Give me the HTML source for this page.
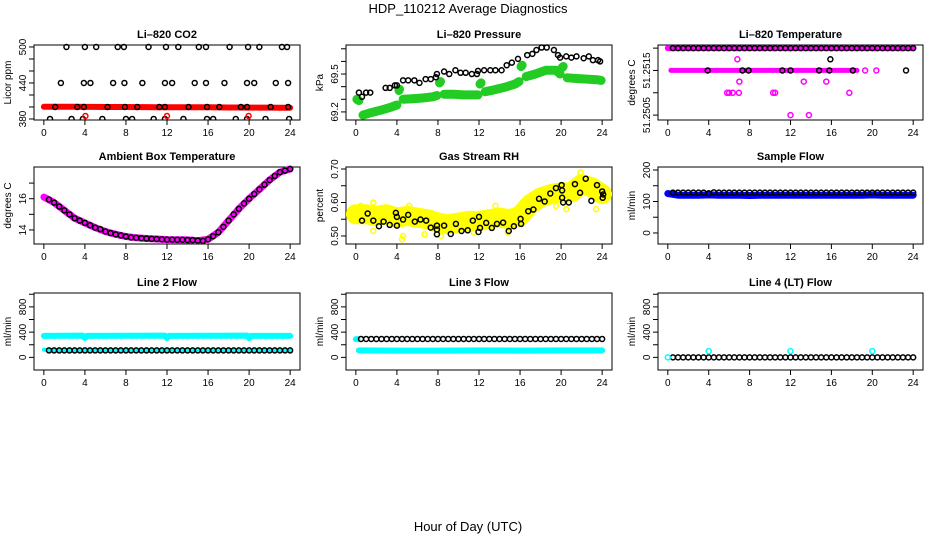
<!DOCTYPE html>
<html><head><meta charset="utf-8"><style>
html,body{margin:0;padding:0;background:#fff;}
svg{display:block;font-family:"Liberation Sans",sans-serif;}
</style></head><body>
<svg id="chart" width="936" height="540" viewBox="0 0 936 540" xmlns="http://www.w3.org/2000/svg">
<text x="468" y="13" font-size="13" text-anchor="middle">HDP_110212  Average Diagnostics</text>
<text x="468" y="531" font-size="13" text-anchor="middle">Hour of Day (UTC)</text>
</svg>
<script>
// ---- shared categories ----
const xTicks = [0,4,8,12,16,20,24];
const H48 = [0.5,1,1.5,2,2.5,3,3.5,4,4.5,5,5.5,6,6.5,7,7.5,8,8.5,9,9.5,10,10.5,11,11.5,12,12.5,13,13.5,14,14.5,15,15.5,16,16.5,17,17.5,18,18.5,19,19.5,20,20.5,21,21.5,22,22.5,23,23.5,24];
const H25 = [0,1,2,3,4,5,6,7,8,9,10,11,12,13,14,15,16,17,18,19,20,21,22,23,24];

// ---- CO2 ----
const co2RedVals = [400.5,400.5,400.4,400.3,400.2,400.1,400,400,399.9,399.8,399.8,399.7,399.6,399.6,399.5,399.4,399.4,399.3,399.2,399.1,399,399,398.9,398.8,398.8];
const co2H500 = [2.2,4.0,5.1,7.2,7.8,10.2,11.9,13.1,15.1,15.8,18.1,19.9,21.0,23.2,23.7];
const co2H440 = [1.66,3.9,4.54,6.75,7.85,9.6,11.8,12.5,14.7,15.8,17.6,19.8,20.5,22.6,23.8];
const co2H400 = [1.1,3.25,3.9,6.2,7.9,9.1,11.25,11.8,14.1,15.9,17.1,19.2,19.8,22.1,23.8];
const co2H380 = [0.6,2.7,3.8,5.7,8.0,8.6,10.7,11.8,13.6,15.9,16.5,18.7,19.8,21.6,23.9];
const co2RedOutH = [4.05,12,19.95];
const co2RedOutV = [385,385,385];

// ---- Pressure ----
const presBlackH = [0.3,0.6,1.0,1.4,2.9,3.3,3.8,4.0,4.6,5.1,5.7,6.2,6.8,7.3,7.8,7.9,8.6,9.1,9.7,10.2,10.7,11.3,11.8,11.9,12.5,13.1,13.6,14.2,14.7,15.2,15.8,16.7,17.2,17.6,18.1,18.6,19.3,19.7,19.9,20.5,21.0,21.5,22.2,22.7,23.1,23.6,23.8];
const presBlackV = [69.353,69.32,69.353,69.353,69.39,69.39,69.41,69.41,69.45,69.45,69.45,69.43,69.46,69.46,69.475,69.50,69.52,69.50,69.53,69.51,69.51,69.50,69.50,69.525,69.53,69.53,69.53,69.53,69.57,69.59,69.62,69.65,69.66,69.69,69.71,69.71,69.69,69.65,69.63,69.64,69.63,69.64,69.625,69.64,69.61,69.61,69.60];
const presGreenH = [0.1,0.3,null,0.7,1.5,2.5,3.5,4.0,null,4.2,4.25,null,4.6,5.5,6.5,7.5,7.9,null,8.15,8.25,null,8.6,9.5,10.5,11.5,11.9,null,12.1,12.2,null,12.6,13.5,14.5,15.5,15.9,null,16.1,16.2,null,16.6,17.5,18.5,19.5,19.9,null,20.1,20.2,null,20.6,21.5,22.5,23.5,23.9];
const presGreenV = [69.30,69.29,null,69.175,69.195,69.215,69.24,69.255,null,69.37,69.38,null,69.30,69.305,69.31,69.32,69.33,null,69.43,69.44,null,69.34,69.34,69.335,69.335,69.335,null,69.42,69.43,null,69.36,69.375,69.395,69.42,69.44,null,69.56,69.57,null,69.48,69.50,69.53,69.53,69.50,null,69.55,69.56,null,69.47,69.465,69.46,69.455,69.45];

// ---- Li-820 Temperature ----
const tMagTopH = [0,24];
const tMagTopV = [51.252,51.252];
const tMagMidH = [0.3,18.5];
const tMagMidV = [51.2515,51.2515];
const tMagPtsH = [19.3,20.4,6.8,7.0,13.3,15.5,5.8,6.0,6.35,6.95,10.3,10.5,17.75,12.0,13.8];
const tMagPtsV = [51.2515,51.2515,51.25175,51.25125,51.25125,51.25125,51.251,51.251,51.251,51.251,51.251,51.251,51.251,51.2505,51.2505];
const tBlackMidH = [3.9,7.3,7.9,11.2,12.0,14.8,15.8,18.1,23.3,15.9];
const tBlackMidV = [51.2515,51.2515,51.2515,51.2515,51.2515,51.2515,51.2515,51.2515,51.2515,51.25175];

// ---- Ambient ----
const ambLineV = [16.1,15.75,15.25,14.75,14.45,14.15,13.9,13.72,13.58,13.5,13.45,13.42,13.38,13.37,13.36,13.32,13.4,13.85,14.6,15.35,16.0,16.6,17.2,17.7,17.9];
const ambBlackV = [15.95,15.75,15.5,15.25,15.0,14.75,14.6,14.45,14.3,14.15,14.05,13.9,13.8,13.72,13.65,13.58,13.52,13.5,13.47,13.45,13.43,13.42,13.4,13.38,13.38,13.37,13.37,13.36,13.35,13.32,13.3,13.4,13.6,13.85,14.2,14.6,15.0,15.35,15.7,16.0,16.3,16.6,16.9,17.2,17.45,17.7,17.8,17.9];

// ---- Gas Stream RH ----
const rhBandV = [0.565,0.565,0.56,0.565,0.555,0.56,0.555,0.55,0.54,0.535,0.54,0.545,0.545,0.55,0.555,0.55,0.56,0.595,0.615,0.625,0.63,0.63,0.655,0.645,0.625];
const rhYelH = [0.2,0.5,1.7,1.7,4.5,4.6,5.2,6.7,8.3,13.6,14.8,21.9,23.4,20.5,19.5,9.5,3.0,11.5];
const rhYelV = [0.575,0.59,0.6,0.515,0.49,0.50,0.59,0.505,0.50,0.59,0.51,0.69,0.58,0.58,0.59,0.525,0.58,0.51];
const rhBlackH = [0.6,1.15,1.7,2.25,2.7,3.3,3.9,4.0,4.0,4.6,5.1,5.75,6.3,6.85,7.3,7.9,7.9,7.9,8.6,9.25,9.75,10.3,10.9,11.4,11.95,12.0,12.1,12.7,13.25,13.75,14.35,14.9,15.4,16.05,16.1,16.8,17.3,17.85,18.4,18.95,19.5,20.05,20.1,20.1,20.2,20.75,21.35,21.85,22.4,22.95,23.5,24.0,24.05,24.1];
const rhBlackV = [0.546,0.567,0.546,0.529,0.543,0.533,0.569,0.557,0.531,0.549,0.563,0.543,0.549,0.546,0.525,0.519,0.531,0.505,0.531,0.506,0.536,0.515,0.517,0.546,0.512,0.557,0.524,0.539,0.524,0.536,0.54,0.515,0.529,0.551,0.536,0.574,0.579,0.611,0.603,0.627,0.643,0.652,0.636,0.614,0.60,0.60,0.655,0.629,0.671,0.605,0.652,0.633,0.614,0.624];

// ---- Sample flow ----
const sampBlueV = [125,120,120,120,121,120,120,120,119,120,120,120,120,120,120,120,120,120,120,120,121,120,120,120,120];
const sampBlackV = [128,128,128,128,128,128,128,126,129,128,128,128,128,128,128,128,128,128,128,128,128,128,128,128,128,128,128,128,128,128,128,128,128,128,128,128,128,128,128,128,128,128,128,128,128,128,128,128];

// ---- Line flows ----
const l2CyanUpH = [0,3.8,4.0,4.2,11.8,12.0,12.2,19.8,20.0,20.2,24];
const l2CyanUpV = [340,345,305,340,345,305,340,345,305,340,340];
const l2CyanLowV = [120,110,110,110,110,110,110,110,110,110,110,110,110,110,110,110,110,110,110,110,110,110,110,110,110];
const l2BlackV = [110,110,110,110,110,110,110,110,110,110,110,110,110,110,110,110,110,110,110,110,110,110,110,110,110,110,110,110,110,110,110,110,110,110,110,110,110,110,110,110,110,110,110,110,110,110,110,110];
const l3CyanH = [0.3,4,8,12,16,20,24];
const l3CyanV = [110,108,108,110,108,110,110];
const l3CyanStartH = [0,0.15];
const l3CyanStartV = [290,290];
const l3BlackV = [292,292,292,292,292,292,292,292,292,292,292,292,292,292,292,292,292,292,292,292,292,292,292,292,292,292,292,292,292,292,292,292,292,292,292,292,292,292,292,292,292,292,292,292,292,292,292,292];
const l4BlackV = [0,0,0,0,0,0,0,0,0,0,0,0,0,0,0,0,0,0,0,0,0,0,0,0,0,0,0,0,0,0,0,0,0,0,0,0,0,0,0,0,0,0,0,0,0,0,0,0];
const l4CyanH = [0,4,12,20];
const l4CyanV = [0,100,100,100];

// ================= drawing =================
const NS = 'http://www.w3.org/2000/svg';
const svg = document.getElementById('chart');
function mk(tag, attrs, parent){
  const e = document.createElementNS(NS, tag);
  for (const k in attrs) e.setAttribute(k, attrs[k]);
  (parent||svg).appendChild(e);
  return e;
}
function panel(cfg){
  const g = mk('g', {});
  
  
  const xs = h => cfg.x0 + (cfg.x1-cfg.x0)*(h+0.96)/25.92;
  const ys = v => cfg.y1 - (cfg.y1-cfg.y0)*(v-cfg.ylim[0])/(cfg.ylim[1]-cfg.ylim[0]);
  const t = mk('text', {x:(cfg.x0+cfg.x1)/2, y:cfg.y0-7, 'font-size':11, 'font-weight':'bold', 'text-anchor':'middle'}, g);
  t.textContent = cfg.title;
  
  
  const box = mk('rect', {x:cfg.x0, y:cfg.y0, width:cfg.x1-cfg.x0, height:cfg.y1-cfg.y0, fill:'none', stroke:'#000', 'stroke-width':1}, g);
  
  
  const xa = mk('g', {}, g);
  
  
  xTicks.forEach(h => {
    mk('line', {x1:xs(h), x2:xs(h), y1:cfg.y1, y2:cfg.y1+5, stroke:'#000'}, xa);
    const l = mk('text', {x:xs(h), y:cfg.y1+16, 'font-size':10, 'text-anchor':'middle'}, xa);
    l.textContent = h;
  });
  const ya = mk('g', {}, g);
  
  
  cfg.yticks.forEach(v => mk('line', {x1:cfg.x0-5, x2:cfg.x0, y1:ys(v), y2:ys(v), stroke:'#000'}, ya));
  cfg.ylabels.forEach(([v, s]) => {
    const l = mk('text', {x:0, y:0, 'font-size':10, 'text-anchor':'middle', transform:`translate(${cfg.x0-8},${ys(v)}) rotate(-90)`}, ya);
    l.textContent = s;
  });
  const yt = mk('text', {x:0, y:0, 'font-size':10, 'text-anchor':'middle', transform:`translate(${cfg.x0-23},${(cfg.y0+cfg.y1)/2}) rotate(-90)`}, g);
  yt.textContent = cfg.ylab;
  
  
  const clip = 'clip-' + cfg.name;
  const cp = mk('clipPath', {id:clip}, g);
  mk('rect', {x:cfg.x0, y:cfg.y0-3, width:cfg.x1-cfg.x0, height:cfg.y1-cfg.y0+3}, cp);
  const plot = mk('g', {'clip-path':`url(#${clip})`}, g);
  return {xs, ys, plot};
}
function band(p, hs, vs, color, w, name){
  let d = '', pen = false;
  hs.forEach((h,i) => {
    if (h === null || vs[i] === null) { pen = false; return; }
    d += (pen ? 'L' : 'M') + p.xs(h).toFixed(1) + ',' + p.ys(vs[i]).toFixed(1);
    pen = true;
  });
  const e = mk('path', {d, fill:'none', stroke:color, 'stroke-width':w, 'stroke-linecap':'round', 'stroke-linejoin':'round'}, p.plot);
  
  
}
function pts(p, hs, vs, color, name, r){
  const g = mk('g', {}, p.plot);
  
  
  hs.forEach((h,i) => {
    mk('circle', {cx:p.xs(h), cy:p.ys(vs[i]), r:r||2.5, fill:'none', stroke:color, 'stroke-width':1.5}, g);
  });
}
function fill(n, v){ return new Array(n).fill(v); }

const C = [[34,300],[346,612],[658,923]];
const R = [[45,120],[167,244],[293,370]];

// CO2
let p = panel({name:'co2-panel', title:'Li\u2013820 CO2', x0:C[0][0], x1:C[0][1], y0:R[0][0], y1:R[0][1], ylim:[378.3,503.3], yticks:[380,400,420,440,460,480,500], ylabels:[[380,'380'],[440,'440'],[500,'500']], ylab:'Licor ppm'});
band(p, H25, co2RedVals, '#ff0000', 6, 'co2-red-band');
pts(p, co2H500, fill(co2H500.length,500), '#000', 'co2-black-500');
pts(p, co2H440, fill(co2H440.length,440), '#000', 'co2-black-440');
pts(p, co2H400, fill(co2H400.length,400), '#000', 'co2-black-400');
pts(p, co2H380, fill(co2H380.length,380), '#000', 'co2-black-380');
pts(p, co2RedOutH, co2RedOutV, '#ff0000', 'co2-red-points');

// Pressure
p = panel({name:'pressure-panel', title:'Li\u2013820 Pressure', x0:C[1][0], x1:C[1][1], y0:R[0][0], y1:R[0][1], ylim:[69.136,69.73], yticks:[69.2,69.3,69.4,69.5,69.6,69.7], ylabels:[[69.2,'69.2'],[69.5,'69.5']], ylab:'kPa'});
band(p, presGreenH, presGreenV, '#22cc22', 9, 'pressure-green-band');
pts(p, presBlackH, presBlackV, '#000', 'pressure-black-points');

// Temperature
p = panel({name:'temperature-panel', title:'Li\u2013820 Temperature', x0:C[2][0], x1:C[2][1], y0:R[0][0], y1:R[0][1], ylim:[51.25039,51.25207], yticks:[51.2505,51.251,51.2515,51.252], ylabels:[[51.2505,'51.2505'],[51.2515,'51.2515']], ylab:'degrees C'});
band(p, tMagTopH, tMagTopV, '#ff00ff', 6, 'temp-magenta-top');
band(p, tMagMidH, tMagMidV, '#ff00ff', 5, 'temp-magenta-mid');
pts(p, tMagPtsH, tMagPtsV, '#ff00ff', 'temp-magenta-points');
pts(p, H48, fill(48,51.252), '#000', 'temp-black-top');
pts(p, tBlackMidH, tBlackMidV, '#000', 'temp-black-mid');

// Ambient
p = panel({name:'ambient-panel', title:'Ambient Box Temperature', x0:C[0][0], x1:C[0][1], y0:R[1][0], y1:R[1][1], ylim:[13.1,18.03], yticks:[14,15,16,17], ylabels:[[14,'14'],[16,'16']], ylab:'degrees C'});
band(p, H25, ambLineV, '#ff00ff', 7, 'ambient-magenta-line');
pts(p, H48, ambBlackV, '#000', 'ambient-black-points');

// RH
p = panel({name:'rh-panel', title:'Gas Stream RH', x0:C[1][0], x1:C[1][1], y0:R[1][0], y1:R[1][1], ylim:[0.476,0.706], yticks:[0.5,0.55,0.6,0.65,0.7], ylabels:[[0.5,'0.50'],[0.6,'0.60'],[0.7,'0.70']], ylab:'percent'});
band(p, H25, rhBandV, '#ffff00', 20, 'rh-yellow-band');
pts(p, rhYelH, rhYelV, '#ffff00', 'rh-yellow-points');
pts(p, rhBlackH, rhBlackV, '#000', 'rh-black-points');

// Sample flow
p = panel({name:'sample-flow-panel', title:'Sample Flow', x0:C[2][0], x1:C[2][1], y0:R[1][0], y1:R[1][1], ylim:[-35,209.5], yticks:[0,50,100,150,200], ylabels:[[0,'0'],[100,'100'],[200,'200']], ylab:'ml/min'});
band(p, H25, sampBlueV, '#0000ff', 7, 'sample-blue-band');
pts(p, H48, sampBlackV, '#000', 'sample-black-points');

// Line 2
const fy = [0,200,400,600,800,1000], fl = [[0,'0'],[400,'400'],[800,'800']];
p = panel({name:'line2-panel', title:'Line 2 Flow', x0:C[0][0], x1:C[0][1], y0:R[2][0], y1:R[2][1], ylim:[-200,1020], yticks:fy, ylabels:fl, ylab:'ml/min'});
band(p, l2CyanUpH, l2CyanUpV, '#00ffff', 6, 'line2-cyan-upper');
band(p, H25, l2CyanLowV, '#00ffff', 4, 'line2-cyan-lower');
pts(p, H48, l2BlackV, '#000', 'line2-black-points');

// Line 3
p = panel({name:'line3-panel', title:'Line 3 Flow', x0:C[1][0], x1:C[1][1], y0:R[2][0], y1:R[2][1], ylim:[-200,1020], yticks:fy, ylabels:fl, ylab:'ml/min'});
band(p, l3CyanH, l3CyanV, '#00ffff', 6, 'line3-cyan-band');
band(p, l3CyanStartH, l3CyanStartV, '#00ffff', 6, 'line3-cyan-start');
pts(p, H48, l3BlackV, '#000', 'line3-black-points');

// Line 4
p = panel({name:'line4-panel', title:'Line 4 (LT) Flow', x0:C[2][0], x1:C[2][1], y0:R[2][0], y1:R[2][1], ylim:[-200,1020], yticks:fy, ylabels:fl, ylab:'ml/min'});
pts(p, H48, l4BlackV, '#000', 'line4-black-points');
pts(p, l4CyanH, l4CyanV, '#00ffff', 'line4-cyan-points');
</script>
</body></html>
